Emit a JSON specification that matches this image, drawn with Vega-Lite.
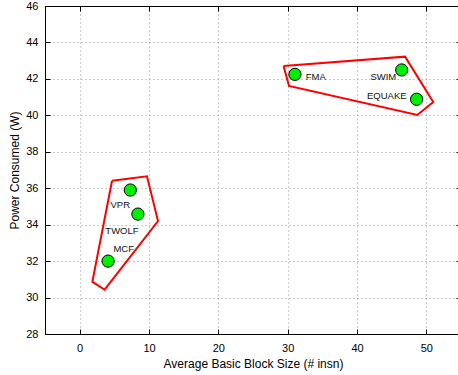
{
  "$schema": "https://vega.github.io/schema/vega-lite/v6.json",
  "width": 416,
  "height": 328,
  "autosize": "none",
  "padding": {"left": 45, "top": 6, "right": 0, "bottom": 41},
  "background": "white",
  "config": {
    "view": {"stroke": "black", "strokeWidth": 1},
    "axis": {
      "domainColor": "black",
      "tickColor": "black",
      "labelColor": "black",
      "titleColor": "black",
      "labelFont": "Liberation Sans",
      "titleFont": "Liberation Sans",
      "labelFontSize": 11,
      "titleFontSize": 12,
      "titleFontWeight": "normal"
    }
  },
  "datasets": {
    "polys": [
      {"group": "A", "order": 1, "x": 4.67, "y": 36.41},
      {"group": "A", "order": 2, "x": 9.71, "y": 36.65},
      {"group": "A", "order": 3, "x": 11.3, "y": 34.2},
      {"group": "A", "order": 4, "x": 3.6, "y": 30.43},
      {"group": "A", "order": 5, "x": 1.83, "y": 30.87},
      {"group": "A", "order": 6, "x": 4.67, "y": 36.41},
      {"group": "B", "order": 1, "x": 29.4, "y": 42.71},
      {"group": "B", "order": 2, "x": 46.93, "y": 43.22},
      {"group": "B", "order": 3, "x": 51.0, "y": 40.73},
      {"group": "B", "order": 4, "x": 48.7, "y": 40.02},
      {"group": "B", "order": 5, "x": 30.2, "y": 41.61},
      {"group": "B", "order": 6, "x": 29.4, "y": 42.71}
    ],
    "points": [
      {"name": "VPR", "x": 7.3, "y": 35.9},
      {"name": "TWOLF", "x": 8.4, "y": 34.58},
      {"name": "MCF", "x": 4.1, "y": 32.0},
      {"name": "FMA", "x": 31.05, "y": 42.25},
      {"name": "SWIM", "x": 46.45, "y": 42.49},
      {"name": "EQUAKE", "x": 48.6, "y": 40.88}
    ],
    "labels": [
      {"name": "VPR", "x": 5.86, "y": 35.08},
      {"name": "TWOLF", "x": 6.1, "y": 33.67},
      {"name": "MCF", "x": 6.35, "y": 32.67},
      {"name": "FMA", "x": 34.06, "y": 42.08},
      {"name": "SWIM", "x": 43.8, "y": 42.12},
      {"name": "EQUAKE", "x": 44.3, "y": 41.08}
    ]
  },
  "resolve": {"axis": {"x": "independent", "y": "independent"}},
  "layer": [
    {
      "data": {"name": "polys"},
      "mark": {"type": "line", "color": "#ff0000", "strokeWidth": 2, "strokeJoin": "miter"},
      "encoding": {
        "x": {"field": "x", "type": "quantitative", "scale": {"domain": [-5, 55], "nice": false, "zero": false},
          "axis": {"values": [0, 10, 20, 30, 40, 50], "grid": true, "gridDash": [1, 3], "gridColor": "#999999", "tickSize": -5, "labelPadding": 13, "title": "Average Basic Block Size (# insn)", "titlePadding": 5}},
        "y": {"field": "y", "type": "quantitative", "scale": {"domain": [28, 46], "nice": false, "zero": false},
          "axis": {"values": [28, 30, 32, 34, 36, 38, 40, 42, 44, 46], "grid": true, "gridDash": [1, 3], "gridColor": "#999999", "tickSize": -5, "labelPadding": 12, "title": "Power Consumed (W)", "titlePadding": 4}},
        "detail": {"field": "group"},
        "order": {"field": "order", "type": "quantitative"}
      }
    },
    {
      "data": {"name": "points"},
      "mark": {"type": "point", "filled": true, "fill": "#00ee00", "stroke": "black", "strokeWidth": 1, "size": 150, "opacity": 1},
      "encoding": {
        "x": {"field": "x", "type": "quantitative", "axis": {"orient": "top", "values": [0, 10, 20, 30, 40, 50], "labels": false, "title": null, "tickSize": -5, "grid": false}},
        "y": {"field": "y", "type": "quantitative", "axis": {"orient": "right", "values": [28, 30, 32, 34, 36, 38, 40, 42, 44, 46], "labels": false, "title": null, "tickSize": -5, "grid": false}}
      }
    },
    {
      "data": {"name": "labels"},
      "mark": {"type": "text", "font": "Liberation Sans", "fontSize": 9.5, "color": "#111111", "align": "center", "baseline": "middle"},
      "encoding": {
        "x": {"field": "x", "type": "quantitative", "axis": null},
        "y": {"field": "y", "type": "quantitative", "axis": null},
        "text": {"field": "name"}
      }
    }
  ]
}
